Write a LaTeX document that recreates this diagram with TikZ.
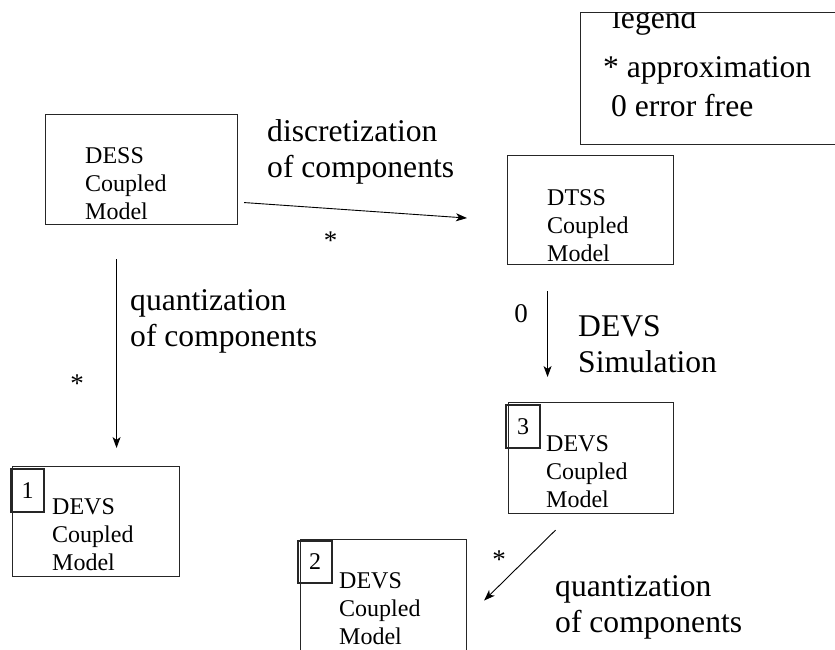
\documentclass[tikz,border=0pt]{standalone}
\usepackage{fontspec}
\setmainfont{Liberation Serif}
\usetikzlibrary{calc,arrows.meta}

\newcommand\modelfont{\fontsize{24}{28}\selectfont}
\newcommand\notefont{\fontsize{31.6}{36}\selectfont}
\newcommand\signfont{\fontsize{27}{30}\selectfont}

\tikzset{
  modelbox/.style={draw=black!85, line width=1.1pt, anchor=north west, inner sep=0pt},
  tagbox/.style={draw=black!85, line width=1.1pt, inner sep=0pt, font=\modelfont},
  boxtext/.style={font=\modelfont, align=left, anchor=base west, inner sep=0pt},
  note/.style={font=\notefont, align=left, anchor=base west, inner sep=0pt},
  sign/.style={font=\signfont, inner sep=0pt},
  flow/.style={line width=0.9pt, -{Stealth[length=11pt,width=8pt,inset=3pt]}}
}

\begin{document}
\begin{tikzpicture}[x=1pt,y=-1pt]
  \useasboundingbox (0,0) rectangle (835,649);
  \clip (0,0) rectangle (835,649);

  \node[modelbox, minimum width=192pt, minimum height=110pt] (dess) at (45,114) {};
  \node[boxtext] (dess text) at (85,219) {DESS\\Coupled\\Model};

  \node[modelbox, minimum width=166pt, minimum height=109pt] (dtss) at (507,155) {};
  \node[boxtext] (dtss text) at (547,261) {DTSS\\Coupled\\Model};

  \node[modelbox, minimum width=167pt, minimum height=110pt] (devs1) at (12,466) {};
  \node[boxtext] (devs1 text) at (52,570) {DEVS\\Coupled\\Model};
  \node[tagbox, minimum width=33pt, minimum height=43pt] (tag1) at (27.5,490.5) {1};

  \node[modelbox, minimum width=165pt, minimum height=111pt] (devs3) at (508,402) {};
  \node[boxtext] (devs3 text) at (546,507) {DEVS\\Coupled\\Model};
  \node[tagbox, minimum width=34pt, minimum height=43pt] (tag3) at (523,426.5) {3};

  \node[modelbox, minimum width=166pt, minimum height=120pt] (devs2) at (300,539) {};
  \node[boxtext] (devs2 text) at (339,644) {DEVS\\Coupled\\Model};
  \node[tagbox, minimum width=34pt, minimum height=42pt] (tag2) at (315,562) {2};

  \node[modelbox, minimum width=300pt, minimum height=132pt] (legend) at (580,12) {};
  \begin{scope}
    \clip (legend.north west) rectangle (legend.south east);
    \node[note] (legend title) at (612,28) {legend};
  \end{scope}
  \node[note] (approx) at (603,77) {* approximation};
  \node[note] (exact) at (611,116) {0 error free};

  \draw[flow] ($ (dess.east) + (6,33) $) -- ($ (dtss.west) + (-40,8) $);
  \draw[flow] ($ (dess.south) + (-25,34) $) -- ($ (devs1.north) + (20.5,-18) $);
  \draw[flow] ($ (dtss.south) + (-43,26) $) -- ($ (devs3.north) + (-43.5,-25) $);
  \draw[flow] ($ (devs3.south) + (-35.5,16) $) -- ($ (devs2.east) + (17,1) $);

  \node[note] (disc) at (267,177) {discretization\\of components};
  \node[note] (quant1) at (130,346) {quantization\\of components};
  \node[note] (sim) at (578,372) {DEVS\\Simulation};
  \node[note] (quant2) at (555,632) {quantization\\of components};

  \node[sign] (star1) at (330.5,241) {*};
  \node[sign] (star2) at (77,384) {*};
  \node[sign] (star3) at (499,560) {*};
  \node[sign] (zero) at (521,314) {0};
\end{tikzpicture}
\end{document}
